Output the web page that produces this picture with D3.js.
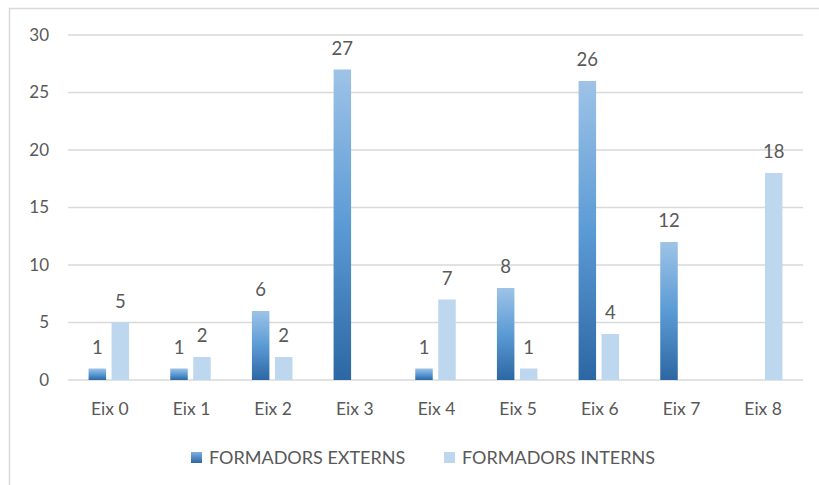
<!DOCTYPE html>
<html><head><meta charset="utf-8">
<script src="https://cdn.jsdelivr.net/npm/d3@7"></script>
<style>body{margin:0;background:#fff}svg{display:block}</style>
</head><body>
<script>
const categories = ["Eix 0","Eix 1","Eix 2","Eix 3","Eix 4","Eix 5","Eix 6","Eix 7","Eix 8"];
const externs = [1,1,6,27,1,8,26,12,null];
const interns = [5,2,2,null,7,1,4,null,18];
const seriesNames = ["FORMADORS EXTERNS","FORMADORS INTERNS"];
const yTicks = [0,5,10,15,20,25,30];

const W=819,H=485;
const svg=d3.select("body").append("svg").attr("width",W).attr("height",H);
const font="Lato, 'Open Sans', sans-serif";
const txt="#595959";

const defs=svg.append("defs");
const g=defs.append("linearGradient").attr("id","gExt").attr("x1",0).attr("y1",1).attr("x2",0).attr("y2",0);
g.append("stop").attr("offset","0%").attr("stop-color","#2c67a3");
g.append("stop").attr("offset","50%").attr("stop-color","#5b9bd5");
g.append("stop").attr("offset","100%").attr("stop-color","#9ec3e7");
const gl=defs.append("linearGradient").attr("id","gLeg").attr("x1",0).attr("y1",1).attr("x2",0).attr("y2",0);
gl.append("stop").attr("offset","0%").attr("stop-color","#2c67a3");
gl.append("stop").attr("offset","100%").attr("stop-color","#7fb0e0");

svg.append("rect").attr("x",9.5).attr("y",8.5).attr("width",W).attr("height",H).attr("fill","none").attr("stroke","#d9d9d9").attr("stroke-width",1.5);

const x=d3.scaleBand().domain(categories).range([68,803]);
const y=d3.scaleLinear().domain([0,30]).range([380,35]);

svg.append("g").selectAll("line").data(yTicks).join("line")
 .attr("x1",68).attr("x2",803).attr("y1",d=>y(d)).attr("y2",d=>y(d))
 .attr("stroke","#d9d9d9").attr("stroke-width",1.5);

svg.append("g").selectAll("text").data(yTicks).join("text")
 .attr("x",49).attr("y",d=>y(d)).attr("dy","0.35em").attr("text-anchor","end")
 .attr("font-family",font).attr("font-size",17).attr("fill",txt).text(d=>d);

const bw=17.5, gap=5.5;
const series=[{vals:externs,fill:"url(#gExt)",off:-(bw+gap/2)},{vals:interns,fill:"#bdd7ee",off:gap/2}];
series.forEach(s=>{
  const data=categories.map((c,i)=>({c,v:s.vals[i]})).filter(d=>d.v!=null);
  svg.append("g").selectAll("rect").data(data).join("rect")
   .attr("x",d=>x(d.c)+x.bandwidth()/2+s.off).attr("width",bw)
   .attr("y",d=>y(d.v)).attr("height",d=>y(0)-y(d.v)).attr("fill",s.fill);
  svg.append("g").selectAll("text").data(data).join("text")
   .attr("x",d=>x(d.c)+x.bandwidth()/2+s.off+bw/2).attr("y",d=>y(d.v)-15)
   .attr("text-anchor","middle").attr("font-family",font).attr("font-size",18.5).attr("fill",txt).text(d=>d.v);
});

svg.append("g").selectAll("text").data(categories).join("text")
 .attr("x",d=>x(d)+x.bandwidth()/2+1).attr("y",409).attr("dy","0.35em").attr("text-anchor","middle")
 .attr("font-family",font).attr("font-size",17.5).attr("fill",txt).text(d=>d);

const leg=[{x:191,fill:"url(#gLeg)"},{x:444,fill:"#bdd7ee"}];
leg.forEach((l,i)=>{
  svg.append("rect").attr("x",l.x).attr("y",452).attr("width",11).attr("height",11).attr("fill",l.fill);
  svg.append("text").attr("x",l.x+18).attr("y",457.5).attr("dy","0.35em")
   .attr("font-family",font).attr("font-size",18).attr("fill",txt).text(seriesNames[i]);
});
</script>
</body></html>
